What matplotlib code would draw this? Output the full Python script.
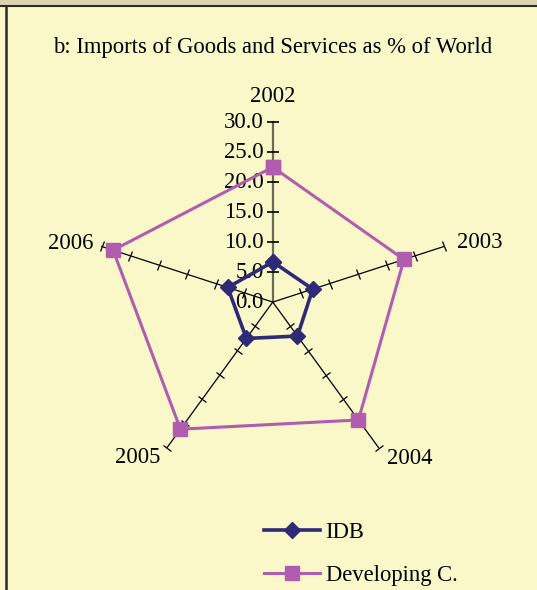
import numpy as np
import matplotlib
matplotlib.use('Agg')
import matplotlib.pyplot as plt
from matplotlib.markers import MarkerStyle
from matplotlib.transforms import Affine2D, offset_copy
from matplotlib.lines import Line2D
from matplotlib.patches import Rectangle

# datos
years = ['2002', '2003', '2004', '2005', '2006']
idb = [6.7, 7.0, 7.0, 7.5, 7.9]
developing = [22.5, 23.0, 24.3, 26.2, 28.0]
r_ticks = [0, 5, 10, 15, 20, 25, 30]

BG = '#FAF7C8'
IDB_COLOR = '#2E2A78'
DEV_COLOR = '#B05DB0'
FS = 16.3

plt.rcParams['font.family'] = ['Liberation Serif', 'DejaVu Serif']

fig = plt.figure(figsize=(5.37, 5.90), dpi=100, facecolor=BG)

# marco: banda superior y borde izquierdo
fig.add_artist(Rectangle((0, 1 - 5 / 590), 1, 5 / 590, transform=fig.transFigure,
                         facecolor='#DCD3B0', edgecolor='none'))
fig.add_artist(Line2D([0, 1], [1 - 6 / 590, 1 - 6 / 590], transform=fig.transFigure,
                      color='#2b2b2b', lw=1.5))
fig.add_artist(Line2D([6 / 537, 6 / 537], [0, 1 - 6 / 590], transform=fig.transFigure,
                      color='#2b2b2b', lw=1.8))

fig.text(0.507, 1 - 47 / 590, 'b: Imports of Goods and Services as % of World',
         ha='center', va='center', fontsize=FS)

ax = fig.add_axes([0.173, 0.183, 0.670, 0.610], projection='polar')
ax.set_theta_offset(np.pi / 2)
ax.set_theta_direction(-1)
ax.set_ylim(0, 30)
ax.set_facecolor('none')
ax.grid(False)
ax.spines['polar'].set_visible(False)
ax.set_xticks([])
ax.set_yticks([])

n = len(years)
thetas = np.arange(n) * 2 * np.pi / n

# ejes radiales con marcas
for i, th in enumerate(thetas):
    disp_angle = 90 - np.degrees(th)
    col = '#6b6b55' if i == 0 else 'black'
    lw = 1.6 if i == 0 else 0.9
    ax.plot([th, th], [0, 30], color=col, lw=lw, zorder=1, clip_on=False)
    mk = MarkerStyle('|', transform=Affine2D().rotate_deg(disp_angle))
    ax.plot([th] * (len(r_ticks) - 1), r_ticks[1:], ls='none', marker=mk,
            markersize=8, markeredgewidth=0.9 if i else 1.2, color='black',
            zorder=1, clip_on=False)

# etiquetas del eje de valores
lab_tr = offset_copy(ax.transData, fig=fig, x=-9, y=0, units='dots')
for v in r_ticks:
    ax.text(0, v, f'{v:.1f}', transform=lab_tr, ha='right', va='center',
            fontsize=FS, zorder=2)

# etiquetas de categorias
cat_pos = [(34.3, 'center', 'center'), (32.3, 'left', 'center'),
           (32.3, 'left', 'center'), (32.0, 'right', 'center'),
           (31.5, 'right', 'center')]
for th, name, (r, ha, va) in zip(thetas, years, cat_pos):
    ax.text(th, r, name, ha=ha, va=va, fontsize=FS)

th_closed = np.append(thetas, thetas[0])
ax.plot(th_closed, idb + idb[:1], color=IDB_COLOR, lw=2.6, marker='D',
        markersize=8.5, label='IDB', zorder=4, clip_on=False)
ax.plot(th_closed, developing + developing[:1], color=DEV_COLOR, lw=2.2, marker='s',
        markersize=9.5, label='Developing C.', zorder=3, clip_on=False)

fig.legend(loc='upper left', bbox_to_anchor=(244 / 537, 1 - 502 / 590),
           frameon=False, fontsize=FS, handlelength=2.45, labelspacing=0.95,
           handletextpad=0.25, numpoints=1)

fig.savefig('out.png', dpi=100, facecolor=BG)
